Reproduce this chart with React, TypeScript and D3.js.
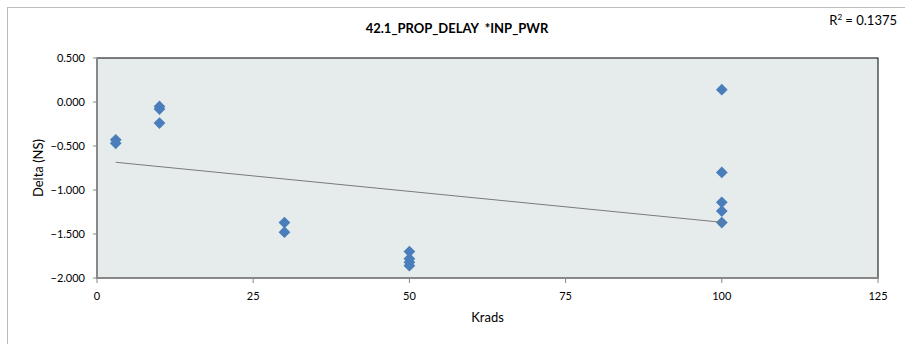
import React from "react";
import * as d3 from "d3";

const TITLE = "42.1_PROP_DELAY  *INP_PWR";
const X_LABEL = "Krads";
const Y_LABEL = "Delta (NS)";
const R2_LABEL = "0.1375";

const xValues = [3, 3, 10, 10, 10, 30, 30, 50, 50, 50, 50, 100, 100, 100, 100, 100];
const yValues = [-0.43, -0.47, -0.05, -0.08, -0.24, -1.37, -1.48, -1.7, -1.78, -1.82, -1.86, 0.14, -0.8, -1.14, -1.24, -1.37];

const xTicks = [0, 25, 50, 75, 100, 125];
const yTicks = [0.5, 0, -0.5, -1, -1.5, -2];

// linear trendline
const trendRange = [3, 100];
const trendIntercept = -0.664;
const trendSlope = -0.00703;

const W = 905;
const H = 344;
const M = { left: 97, top: 58, right: 878, bottom: 278 };
const FONT = "Lato, 'Open Sans', sans-serif";

export default function App() {
  const x = d3.scaleLinear().domain([0, 125]).range([M.left, M.right]);
  const y = d3.scaleLinear().domain([-2, 0.5]).range([M.bottom, M.top]);
  const fmt = d3.format(".3f");
  const diamond = d3.symbol().type(d3.symbolDiamond2).size(88)();
  const trendLine = d3
    .line<number>()
    .x((d) => x(d))
    .y((d) => y(trendIntercept + trendSlope * d));

  return (
    <svg
      width={W}
      height={H}
      style={{ position: "absolute", left: 0, top: 0, background: "#fff" }}
      fontFamily={FONT}
    >
      <rect x={7.5} y={7.5} width={W + 20} height={H + 20} fill="#fff" stroke="#bcbcbc" strokeWidth={1} />
      <text x={457} y={33} textAnchor="middle" fontWeight="bold" fontSize={13} fill="#000" style={{ whiteSpace: "pre" }}>
        {TITLE}
      </text>
      <text x={897} y={25} textAnchor="end" fontSize={13} fill="#000">
        R<tspan dy={-5} fontSize={8}>2</tspan>
        <tspan dy={5}>{" = " + R2_LABEL}</tspan>
      </text>

      <rect x={M.left} y={M.top} width={M.right - M.left} height={M.bottom - M.top} fill="#e6ecec" stroke="#000" strokeWidth={1} />
      <line x1={M.left} x2={M.left} y1={M.top} y2={M.bottom + 1} stroke="#888" strokeWidth={2} />
      <line x1={M.left - 1} x2={M.right + 1} y1={M.bottom} y2={M.bottom} stroke="#888" strokeWidth={2} />

      {yTicks.map((t) => (
        <g key={"y" + t}>
          <line x1={M.left - 4} x2={M.left} y1={y(t)} y2={y(t)} stroke="#888" strokeWidth={1} />
          <text x={85} y={y(t) + 4} textAnchor="end" fontSize={11} fill="#000">
            {fmt(t)}
          </text>
        </g>
      ))}
      {xTicks.map((t) => (
        <g key={"x" + t}>
          <line x1={x(t)} x2={x(t)} y1={M.bottom} y2={M.bottom + 5} stroke="#888" strokeWidth={1} />
          <text x={x(t)} y={300} textAnchor="middle" fontSize={11} fill="#000">
            {t}
          </text>
        </g>
      ))}

      <text x={(M.left + M.right) / 2} y={322} textAnchor="middle" fontSize={13} fill="#000">
        {X_LABEL}
      </text>
      <text
        transform={`translate(43, ${(M.top + M.bottom) / 2}) rotate(-90)`}
        textAnchor="middle"
        fontSize={13}
        fill="#000"
      >
        {Y_LABEL}
      </text>

      {xValues.map((xv, i) => (
        <path key={"p" + i} d={diamond} transform={`translate(${x(xv)}, ${y(yValues[i])})`} fill="#4a7ebb" />
      ))}
      <path d={trendLine(trendRange) || ""} fill="none" stroke="#7a7a7a" strokeWidth={1} />
    </svg>
  );
}
